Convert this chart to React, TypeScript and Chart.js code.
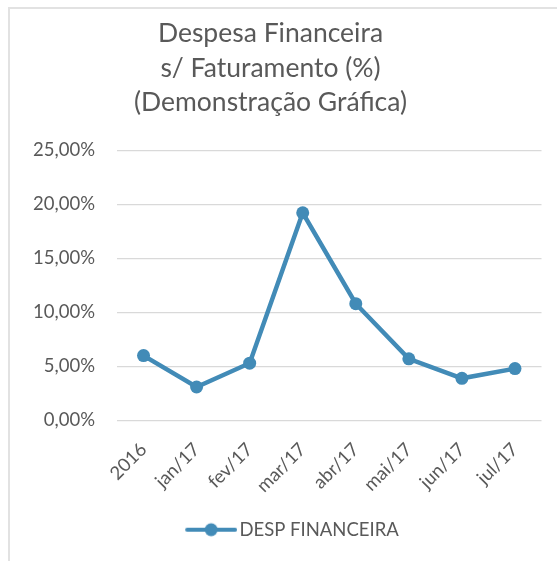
import React, { useEffect, useRef } from "react";
import { Chart, registerables } from "chart.js";

Chart.register(...registerables);

const categories = ["2016", "jan/17", "fev/17", "mar/17", "abr/17", "mai/17", "jun/17", "jul/17"];
const despFinanceira = [6.0, 3.1, 5.3, 19.2, 10.8, 5.7, 3.9, 4.8];
const titleLines = ["Despesa Financeira", "s/ Faturamento (%)", "(Demonstração Gráfica)"];
const seriesName = "DESP FINANCEIRA";
const yMin = 0;
const yMax = 25;
const yStep = 5;

const LINE = "#428bb7";
const TEXT = "#595959";
const GRID = "#d9d9d9";
const FONT = "Lato, 'Open Sans', sans-serif";

const LEGEND_BOX = 88;
const LEGEND_IMG_W = LEGEND_BOX + 14;

function makeLegendSymbol(): HTMLCanvasElement {
  const c = document.createElement("canvas");
  c.width = LEGEND_IMG_W;
  c.height = 16;
  const ctx = c.getContext("2d")!;
  ctx.strokeStyle = LINE;
  ctx.lineWidth = 4;
  ctx.lineCap = "round";
  ctx.beginPath();
  ctx.moveTo(LEGEND_IMG_W - 50, 8);
  ctx.lineTo(LEGEND_IMG_W - 2, 8);
  ctx.stroke();
  ctx.fillStyle = LINE;
  ctx.beginPath();
  ctx.arc(LEGEND_IMG_W - 26, 8, 6.5, 0, Math.PI * 2);
  ctx.fill();
  return c;
}

export default function App() {
  const ref = useRef<HTMLCanvasElement | null>(null);
  useEffect(() => {
    if (!ref.current) return;
    const symbol = makeLegendSymbol();
    const chart = new Chart(ref.current, {
      type: "line",
      data: {
        labels: categories,
        datasets: [
          {
            label: seriesName,
            data: despFinanceira,
            borderColor: LINE,
            backgroundColor: LINE,
            borderWidth: 4.5,
            pointRadius: 6.5,
            pointHoverRadius: 6.5,
            pointBackgroundColor: LINE,
            pointBorderColor: LINE,
            pointBorderWidth: 0,
            tension: 0,
          },
        ],
      },
      options: {
        animation: false,
        responsive: true,
        maintainAspectRatio: false,
        layout: { padding: { left: 0, right: 0, top: 0, bottom: 12 } },
        plugins: {
          tooltip: { enabled: false },
          title: {
            display: true,
            text: titleLines,
            color: TEXT,
            font: { family: FONT, size: 26.5, weight: "normal", lineHeight: 1.31 },
            padding: { top: 9, bottom: 30 },
          },
          legend: {
            display: true,
            position: "bottom",
            labels: {
              usePointStyle: true,
              pointStyleWidth: LEGEND_BOX,
              color: TEXT,
              padding: 10,
              font: { family: FONT, size: 18.5 },
              generateLabels: () => [
                {
                  text: seriesName,
                  pointStyle: symbol as any,
                  fillStyle: LINE,
                  strokeStyle: LINE,
                  lineWidth: 0,
                  hidden: false,
                  datasetIndex: 0,
                  fontColor: TEXT,
                } as any,
              ],
            },
          },
        },
        scales: {
          x: {
            offset: true,
            grid: { display: false },
            border: { display: false },
            ticks: {
              color: TEXT,
              font: { family: FONT, size: 18.5 },
              minRotation: 45,
              maxRotation: 45,
              autoSkip: false,
              padding: 10,
            },
            afterFit: (s: any) => {
              s.height = 90;
              s.paddingLeft = 0;
              s.paddingRight = 0;
            },
          },
          y: {
            min: yMin,
            max: yMax,
            grid: { color: GRID, lineWidth: 1.2, drawTicks: false },
            border: { display: false },
            ticks: {
              stepSize: yStep,
              color: TEXT,
              padding: 22,
              font: { family: FONT, size: 18.5 },
              callback: (v: any) => Number(v).toFixed(2).replace(".", ",") + "%",
            },
            afterFit: (s: any) => {
              s.width = 124;
            },
          },
        },
      },
    });
    return () => chart.destroy();
  }, []);

  return (
    <div
      style={{
        position: "fixed",
        left: 0,
        top: 0,
        width: 557,
        height: 561,
        overflow: "hidden",
        background: "#ffffff",
      }}
    >
      <div style={{ position: "absolute", left: -7, top: 7, width: 555, height: 554 }}>
        <canvas ref={ref} />
      </div>
      <div
        style={{
          position: "absolute",
          left: 8,
          top: 7,
          right: -10,
          bottom: -10,
          borderLeft: "2px solid #e2e2e2",
          borderTop: "2px solid #e2e2e2",
          pointerEvents: "none",
        }}
      />
    </div>
  );
}
